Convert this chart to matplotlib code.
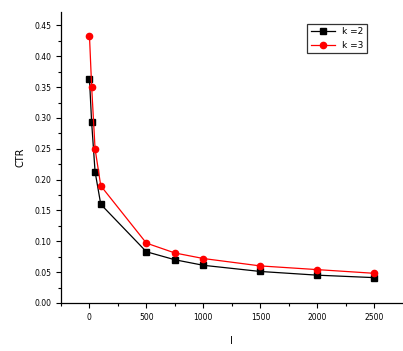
import matplotlib.pyplot as plt
from matplotlib.ticker import MultipleLocator

# values
iters = [1, 20, 50, 100, 500, 750, 1000, 1500, 2000, 2500]
ctr_k2 = [0.363, 0.293, 0.213, 0.160, 0.083, 0.070, 0.061, 0.051, 0.045, 0.041]
ctr_k3 = [0.433, 0.351, 0.250, 0.190, 0.097, 0.081, 0.072, 0.060, 0.054, 0.048]
series_labels = ['k =2', 'k =3']

fig = plt.figure(figsize=(4.03, 3.51), dpi=100)
ax = fig.add_axes([0.151, 0.137, 0.846, 0.829])

ax.plot(iters, ctr_k2, color='black', marker='s', markersize=4, linewidth=0.9,
        label=series_labels[0])
ax.plot(iters, ctr_k3, color='red', marker='o', markersize=4.5, linewidth=0.9,
        label=series_labels[1])

ax.set_xlim(-250, 2740)
ax.set_ylim(0, 0.472)
ax.xaxis.set_major_locator(MultipleLocator(500))
ax.xaxis.set_minor_locator(MultipleLocator(250))
ax.yaxis.set_major_locator(MultipleLocator(0.05))
ax.yaxis.set_minor_locator(MultipleLocator(0.025))
ax.yaxis.set_major_formatter(plt.FuncFormatter(lambda v, p: f'{v:.2f}'))

for side in ['top', 'right']:
    ax.spines[side].set_visible(False)
for side in ['left', 'bottom']:
    ax.spines[side].set_linewidth(0.9)

ax.tick_params(which='both', direction='out', labelsize=5.5, width=0.8)
ax.tick_params(which='major', length=3.5)
ax.tick_params(which='minor', length=2)

ax.set_xlabel('I', fontsize=7, labelpad=10)
ax.set_ylabel('CTR', fontsize=7, labelpad=6)

leg = ax.legend(loc='upper left', bbox_to_anchor=(0.71, 0.975), fontsize=6.5,
                frameon=True, fancybox=False, edgecolor='black',
                handlelength=2.6, borderpad=0.4, labelspacing=0.5)
leg.get_frame().set_linewidth(0.9)

fig.savefig('out.png', dpi=100)
